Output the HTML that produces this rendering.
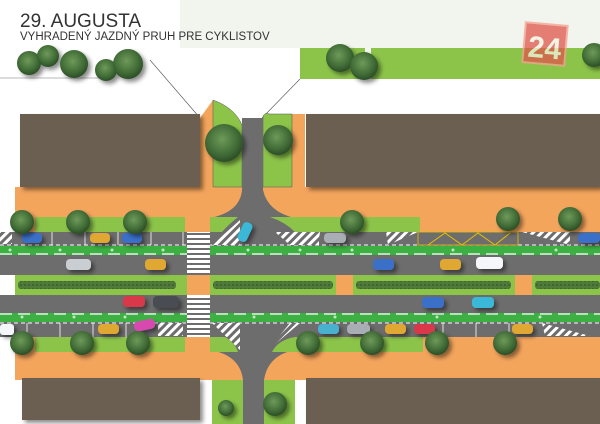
<!DOCTYPE html>
<html><head><meta charset="utf-8"><style>
html,body{margin:0;padding:0;background:#fff;width:600px;height:424px;overflow:hidden}
svg{display:block}
</style></head><body>
<svg width="600" height="424" viewBox="0 0 600 424" xmlns="http://www.w3.org/2000/svg">
<defs>
<radialGradient id="tr" cx="45%" cy="40%" r="60%"><stop offset="0" stop-color="#6f9a5a"/><stop offset="0.7" stop-color="#3f6a35"/><stop offset="1" stop-color="#2c4d27"/></radialGradient>
<pattern id="hatch" width="6" height="6" patternUnits="userSpaceOnUse" patternTransform="rotate(45)"><rect width="6" height="6" fill="#6d6d6d"/><rect width="3" height="6" fill="#fff"/></pattern>
<pattern id="zebra" width="24" height="5" patternUnits="userSpaceOnUse"><rect width="24" height="5" fill="#6d6d6d"/><rect width="24" height="3" fill="#fff"/></pattern>
<pattern id="hedge" width="4" height="4" patternUnits="userSpaceOnUse"><rect width="4" height="4" fill="#4f7a3a"/><circle cx="1" cy="1" r="1" fill="#3b5e2c"/></pattern>
<filter id="sh" x="-20%" y="-20%" width="150%" height="150%"><feDropShadow dx="3" dy="3" stdDeviation="2" flood-opacity="0.45"/></filter>
</defs>
<rect x="180" y="0" width="420" height="48" fill="#f2f5ee"/>
<rect x="300" y="48" width="300" height="31" fill="#8cc44a"/>
<rect x="365" y="48" width="6" height="31" fill="#f5f5f5"/>
<line x1="0" y1="78" x2="100" y2="78" stroke="#777" stroke-width="0.6"/>
<line x1="150" y1="60" x2="200" y2="118" stroke="#555" stroke-width="0.6"/>
<line x1="300" y1="79" x2="262" y2="118" stroke="#555" stroke-width="0.6"/>
<!-- orange ground -->
<rect x="15" y="187" width="585" height="45" fill="#f4a55c"/>
<rect x="15" y="337" width="585" height="43" fill="#f4a55c"/>
<polygon points="200,118 213,100 213,190 200,190" fill="#f4a55c"/>
<polygon points="292,114 305,114 305,190 292,190" fill="#f4a55c"/>
<path d="M213,100 Q235,108 242,125 L242,187 L213,187Z" fill="#8cc44a" stroke="#555" stroke-width="0.5"/>
<path d="M263,118 Q263,112 270,114 L292,114 L292,187 L263,187Z" fill="#8cc44a" stroke="#555" stroke-width="0.5"/>
<rect x="212" y="380" width="31" height="44" fill="#8cc44a"/>
<rect x="264" y="380" width="31" height="44" fill="#8cc44a"/>
<path d="M242,118 L263,118 L263,190 Q268,212 295,218 L295,232 L210,232 L210,218 Q240,212 242,190Z" fill="#6d6d6d"/>
<path d="M210,337 L295,337 L295,350 Q268,355 264,380 L264,424 L243,424 L243,380 Q240,355 210,350Z" fill="#6d6d6d"/>
<rect x="35" y="217" width="150" height="15" fill="#8cc44a"/>
<path d="M210,217 L238,217 Q228,225 222,232 L210,232Z" fill="#8cc44a"/>
<path d="M270,217 L420,217 L420,232 L295,232 Q285,222 270,217Z" fill="#8cc44a"/>
<rect x="35" y="337" width="150" height="15" fill="#8cc44a"/>
<path d="M210,337 L225,337 Q235,343 238,352 L210,352Z" fill="#8cc44a"/>
<path d="M272,352 Q278,340 295,337 L423,337 L423,352Z" fill="#8cc44a"/>
<rect x="0" y="232" width="600" height="14" fill="#6d6d6d"/>
<rect x="0" y="246" width="600" height="9" fill="#3cb043"/>
<rect x="0" y="255" width="600" height="20" fill="#6d6d6d"/>
<rect x="15" y="275" width="585" height="20" fill="#8cc44a"/>
<rect x="187" y="275" width="23" height="20" fill="#f4a55c"/>
<rect x="336" y="275" width="17" height="20" fill="#f4a55c"/>
<rect x="515" y="275" width="17" height="20" fill="#f4a55c"/>
<rect x="18" y="281" width="158" height="8" fill="url(#hedge)" rx="3"/>
<rect x="213" y="281" width="120" height="8" fill="url(#hedge)" rx="3"/>
<rect x="356" y="281" width="155" height="8" fill="url(#hedge)" rx="3"/>
<rect x="535" y="281" width="65" height="8" fill="url(#hedge)" rx="3"/>
<rect x="0" y="295" width="600" height="18" fill="#6d6d6d"/>
<rect x="0" y="313" width="600" height="9" fill="#3cb043"/>
<rect x="0" y="322" width="600" height="15" fill="#6d6d6d"/>
<line x1="0" y1="245" x2="600" y2="245" stroke="#fff" stroke-width="1" stroke-dasharray="4,3"/>
<line x1="0" y1="254" x2="600" y2="254" stroke="#fff" stroke-width="1.2" stroke-dasharray="12,6"/>
<line x1="0" y1="314" x2="600" y2="314" stroke="#fff" stroke-width="1.2" stroke-dasharray="12,6"/>
<line x1="0" y1="323" x2="600" y2="323" stroke="#fff" stroke-width="1" stroke-dasharray="4,3"/>
<g fill="#bfe8bf"><circle cx="10" cy="250" r="1.5"/><circle cx="60" cy="250" r="1.5"/><circle cx="112" cy="250" r="1.5"/><circle cx="163" cy="250" r="1.5"/><circle cx="248" cy="250" r="1.5"/><circle cx="300" cy="250" r="1.5"/><circle cx="352" cy="250" r="1.5"/><circle cx="453" cy="250" r="1.5"/><circle cx="556" cy="250" r="1.5"/>
<circle cx="22" cy="317" r="1.5"/><circle cx="74" cy="317" r="1.5"/><circle cx="125" cy="317" r="1.5"/><circle cx="254" cy="317" r="1.5"/><circle cx="335" cy="317" r="1.5"/><circle cx="437" cy="317" r="1.5"/><circle cx="540" cy="317" r="1.5"/></g>
<g stroke="#fff" stroke-width="0.8"><line x1="52" y1="232" x2="52" y2="245"/><line x1="85" y1="232" x2="85" y2="245"/><line x1="118" y1="232" x2="118" y2="245"/><line x1="151" y1="232" x2="151" y2="245"/><line x1="183" y1="232" x2="183" y2="245"/>
<line x1="27" y1="323" x2="27" y2="337"/><line x1="60" y1="323" x2="60" y2="337"/><line x1="93" y1="323" x2="93" y2="337"/><line x1="126" y1="323" x2="126" y2="337"/><line x1="443" y1="323" x2="443" y2="337"/><line x1="476" y1="323" x2="476" y2="337"/><line x1="509" y1="323" x2="509" y2="337"/></g>
<rect x="187" y="232" width="23" height="43" fill="url(#zebra)"/>
<rect x="187" y="295" width="23" height="42" fill="url(#zebra)"/>
<polygon points="212,245 240,220 240,245" fill="url(#hatch)"/>
<polygon points="275,232 320,232 318,245 290,245" fill="url(#hatch)"/>
<rect x="300" y="232" width="19" height="13" fill="url(#hatch)"/>
<polygon points="386,232 418,232 388,245" fill="url(#hatch)"/>
<polygon points="522,232 570,232 570,245" fill="url(#hatch)"/>
<rect x="0" y="232" width="12" height="12" fill="url(#hatch)"/>
<rect x="158" y="323" width="25" height="13" fill="url(#hatch)"/>
<polygon points="212,323 240,323 240,350" fill="url(#hatch)"/>
<polygon points="268,350 290,323 300,323" fill="url(#hatch)"/>
<polygon points="542,323 590,336 545,336" fill="url(#hatch)"/>
<rect x="418" y="232" width="100" height="13" fill="#6d6d6d" stroke="#e6c000" stroke-width="0.8"/>
<polyline points="428,245 445,233 462,245 478,233 495,245 510,233" fill="none" stroke="#e6c000" stroke-width="1"/>
<g filter="url(#sh)" fill="#6b5e51">
<rect x="20" y="114" width="180" height="73"/>
<rect x="306" y="114" width="294" height="73"/>
<rect x="22" y="378" width="178" height="42"/>
<rect x="306" y="378" width="294" height="46"/>
</g>
<g filter="url(#sh)">
<rect x="22" y="233" width="20" height="10" rx="4" fill="#3a6fc8"/>
<rect x="90" y="233" width="20" height="10" rx="4" fill="#e0a830"/>
<rect x="122" y="233" width="20" height="10" rx="4" fill="#3a6fc8"/>
<rect x="324" y="233" width="22" height="10" rx="4" fill="#a8aeb3"/>
<rect x="578" y="233" width="22" height="10" rx="4" fill="#3a6fc8"/>
<rect x="240" y="222" width="10" height="20" rx="4" fill="#3ab8d8" transform="rotate(25 245 232)"/>
<rect x="66" y="259" width="25" height="11" rx="4" fill="#c9ced3"/>
<rect x="145" y="259" width="21" height="11" rx="4" fill="#e0a830"/>
<rect x="373" y="259" width="21" height="11" rx="4" fill="#3a6fc8"/>
<rect x="440" y="259" width="21" height="11" rx="4" fill="#e0a830"/>
<rect x="476" y="257" width="27" height="12" rx="4" fill="#f4f6fa"/>
<rect x="123" y="296" width="22" height="11" rx="4" fill="#d83848"/>
<rect x="153" y="296" width="26" height="12" rx="4" fill="#4a4e52"/>
<rect x="422" y="297" width="22" height="11" rx="4" fill="#3a6fc8"/>
<rect x="472" y="297" width="22" height="11" rx="4" fill="#3ab8d8"/>
<rect x="0" y="324" width="14" height="11" rx="3" fill="#f4f6fa"/>
<rect x="98" y="324" width="21" height="10" rx="4" fill="#e0a830"/>
<rect x="134" y="320" width="21" height="10" rx="4" fill="#d84ab0" transform="rotate(-12 145 325)"/>
<rect x="318" y="324" width="21" height="10" rx="4" fill="#4ab0d0"/>
<rect x="347" y="324" width="23" height="10" rx="4" fill="#a8aeb3"/>
<rect x="385" y="324" width="21" height="10" rx="4" fill="#e0a830"/>
<rect x="414" y="324" width="21" height="10" rx="4" fill="#d83848"/>
<rect x="512" y="324" width="21" height="10" rx="4" fill="#e0a830"/>
</g>
<g fill="url(#tr)" filter="url(#sh)">
<circle cx="29" cy="63" r="12"/><circle cx="48" cy="56" r="11"/><circle cx="74" cy="64" r="14"/><circle cx="106" cy="70" r="11"/><circle cx="128" cy="64" r="15"/>
<circle cx="340" cy="58" r="14"/><circle cx="364" cy="66" r="14"/><circle cx="594" cy="55" r="12"/>
<circle cx="224" cy="143" r="19"/><circle cx="278" cy="140" r="15"/>
<circle cx="22" cy="222" r="12"/><circle cx="78" cy="222" r="12"/><circle cx="135" cy="222" r="12"/><circle cx="352" cy="222" r="12"/><circle cx="508" cy="219" r="12"/><circle cx="570" cy="219" r="12"/>
<circle cx="22" cy="343" r="12"/><circle cx="82" cy="343" r="12"/><circle cx="138" cy="343" r="12"/><circle cx="308" cy="343" r="12"/><circle cx="372" cy="343" r="12"/><circle cx="437" cy="343" r="12"/><circle cx="505" cy="343" r="12"/>
<circle cx="226" cy="408" r="8"/><circle cx="275" cy="404" r="12"/>
</g>
<text x="20" y="27" font-family="Liberation Sans, sans-serif" font-size="19" fill="#333">29. AUGUSTA</text>
<text x="20" y="40" font-family="Liberation Sans, sans-serif" font-size="11.5" fill="#333">VYHRADENÝ JAZDNÝ PRUH PRE CYKLISTOV</text>
<g transform="rotate(5 545 44)" opacity="0.75">
<rect x="524" y="24" width="42" height="40" fill="#e0554a" stroke="#f4a090" stroke-width="2"/>
<text x="545" y="58" text-anchor="middle" font-family="Liberation Sans, sans-serif" font-weight="bold" font-size="30" fill="#f3f3e0">24</text>
</g>
</svg>
</body></html>
